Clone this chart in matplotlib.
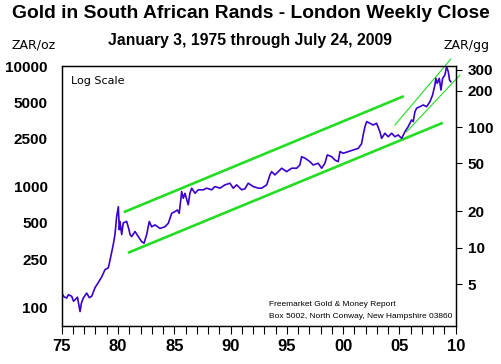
import numpy as np
import matplotlib
matplotlib.use('Agg')
import matplotlib.pyplot as plt
from matplotlib import font_manager
from matplotlib.ticker import FixedLocator, NullFormatter, NullLocator, MultipleLocator

# weekly close (year, ZAR per ounce)
years = [1975.00, 1975.20, 1975.44, 1975.60, 1975.89, 1976.05, 1976.18, 1976.40, 1976.63, 1976.75,
         1976.92, 1977.22, 1977.45, 1977.66,
         1977.96, 1978.25, 1978.55, 1978.85, 1979.14, 1979.29, 1979.58, 1979.73, 1979.88, 1980.03,
         1980.12, 1980.18, 1980.33, 1980.47, 1980.77, 1980.98, 1981.07, 1981.22, 1981.51, 1981.80,
         1982.10, 1982.31, 1982.55, 1982.78, 1982.99, 1983.29, 1983.73, 1984.17, 1984.47, 1984.77,
         1985.06, 1985.27, 1985.44, 1985.66, 1985.80, 1985.95, 1986.24, 1986.39, 1986.55, 1986.84,
         1987.13, 1987.58, 1987.88, 1988.32, 1988.61, 1989.06, 1989.50, 1989.94, 1990.24, 1990.54,
         1990.99, 1991.28, 1991.57, 1992.02, 1992.46, 1992.76, 1993.21, 1993.50, 1993.65, 1993.94,
         1994.24, 1994.54, 1994.98, 1995.43, 1995.87, 1996.16, 1996.31, 1996.61, 1997.05, 1997.34,
         1997.79, 1998.09, 1998.38, 1998.59, 1998.98, 1999.27, 1999.56, 1999.72, 2000.01, 2000.45,
         2000.90, 2001.34, 2001.64, 2001.78, 2001.94, 2002.09, 2002.38, 2002.67, 2002.97, 2003.27,
         2003.42, 2003.71, 2004.01, 2004.31, 2004.60, 2004.89, 2005.20, 2005.49, 2005.78, 2006.08,
         2006.23, 2006.38, 2006.53, 2006.82, 2007.11, 2007.42, 2007.71, 2007.95, 2008.15, 2008.24,
         2008.36, 2008.54, 2008.69, 2008.84, 2009.04, 2009.19, 2009.34, 2009.45, 2009.56]
zar_oz = [131, 122, 119, 127, 123, 112, 115, 121, 92, 108,
          119, 131, 120, 123,
          145, 160, 178, 205, 212, 245, 330, 400, 562, 680,
          439, 514, 400, 500, 514, 439, 400, 385, 424, 385,
          350, 339, 400, 514, 464, 481, 450, 464, 496, 600,
          620, 640, 600, 910, 800, 880, 706, 880, 970, 880,
          940, 940, 970, 940, 1000, 970, 1033, 1066, 970, 1033,
          940, 960, 1066, 1000, 970, 970, 1033, 1250, 1330, 1250,
          1330, 1420, 1330, 1420, 1420, 1510, 1770, 1720, 1610, 1510,
          1560, 1420, 1560, 1830, 1770, 1660, 1610, 1950, 1890, 1950,
          2010, 2075, 2270, 2680, 3140, 3460, 3350, 3240, 3350, 2850,
          2510, 2770, 2590, 2770, 2590, 2680, 2510, 2850, 3140, 3570,
          3460, 4180, 4470, 4600, 4750, 4600, 5060, 5750, 6960, 7900,
          7180, 7900, 6320, 7900, 8420, 9870, 8970, 7660, 7410]

# trend channels: (start year, end year), (start value, end value)
chan_upper = ([1980.62, 2005.28], [619, 5565])
chan_lower = ([1981.00, 2008.75], [285, 3348])
steep_upper = ([2004.60, 2009.57], [3241, 11430])
steep_lower = ([2005.64, 2010.38], [2851, 8420])

left_ticks = [100, 250, 500, 1000, 2500, 5000, 10000]
right_ticks = [5, 10, 20, 50, 100, 200, 300]
year_ticks = [1975, 1980, 1985, 1990, 1995, 2000, 2005, 2010]
year_labels = ['75', '80', '85', '90', '95', '00', '05', '10']
GRAMS_PER_OZ = 31.1035

installed = {f.name for f in font_manager.fontManager.ttflist}
if 'Liberation Sans Narrow' in installed:
	xlab_font = dict(family='Liberation Sans Narrow', weight='bold', fontsize=14)
else:
	xlab_font = dict(family='Liberation Sans', weight='bold', fontsize=12)

W, H = 501, 364
fig = plt.figure(figsize=(W / 100, H / 100), dpi=100)
ax = fig.add_axes([61.7 / W, 38 / H, 394 / W, 260 / H])

green = '#22dd22'
ax.plot(years, zar_oz, color='#3a00cc', lw=1.2, zorder=3)
ax.plot(*chan_upper, color=green, lw=1.9, zorder=2)
ax.plot(*chan_lower, color=green, lw=1.9, zorder=2)
ax.plot(*steep_upper, color=green, lw=0.8, zorder=2, clip_on=False)
ax.plot(*steep_lower, color=green, lw=0.8, zorder=2, clip_on=False)

ax.set_yscale('log')
ylo, yhi = 69.8, 10000
ax.set_ylim(ylo, yhi)
ax.set_xlim(1975, 2010)

bold = dict(family='Liberation Sans', weight='bold')
ax.yaxis.set_major_locator(FixedLocator(left_ticks))
ax.yaxis.set_minor_locator(NullLocator())
ax.set_yticklabels([str(t) for t in left_ticks], fontsize=11, **bold)
ax.tick_params(axis='y', length=0, pad=10)

ax.xaxis.set_major_locator(FixedLocator(year_ticks))
ax.xaxis.set_minor_locator(MultipleLocator(1))
ax.set_xticklabels(year_labels, **xlab_font)
ax.tick_params(axis='x', which='both', direction='out', length=5.5, width=0.8, pad=4)

ax2 = ax.twinx()
ax2.set_yscale('log')
ax2.set_ylim(ylo / GRAMS_PER_OZ, yhi / GRAMS_PER_OZ)
ax2.yaxis.set_major_locator(FixedLocator(right_ticks))
ax2.yaxis.set_minor_locator(NullLocator())
ax2.yaxis.set_minor_formatter(NullFormatter())
ax2.set_yticklabels([str(t) for t in right_ticks], fontsize=11, **bold)
ax2.tick_params(axis='y', direction='out', length=4.5, width=0.8, pad=4)

for a in (ax, ax2):
	for s in a.spines.values():
		s.set_linewidth(0.9)

fig.text(0.5, 1 - 14 / H, 'Gold in South African Rands - London Weekly Close',
		 ha='center', va='center', fontsize=13.9, **bold)
fig.text(0.5, 1 - 40 / H, 'January 3, 1975 through July 24, 2009',
		 ha='center', va='center', fontsize=11.3, **bold)
fig.text(12 / W, 1 - 45 / H, 'ZAR/oz', ha='left', va='center', fontsize=9, family='DejaVu Sans')
fig.text(489 / W, 1 - 45 / H, 'ZAR/gg', ha='right', va='center', fontsize=9, family='DejaVu Sans')
fig.text(71 / W, 1 - 81 / H, 'Log Scale', ha='left', va='center', fontsize=8, family='DejaVu Sans')
fig.text(269 / W, 1 - 305 / H, 'Freemarket Gold & Money Report',
		 ha='left', va='center', fontsize=6, family='Liberation Sans')
fig.text(269 / W, 1 - 316 / H, 'Box 5002, North Conway, New Hampshire 03860',
		 ha='left', va='center', fontsize=6, family='Liberation Sans')

fig.savefig('out.png', dpi=100)
